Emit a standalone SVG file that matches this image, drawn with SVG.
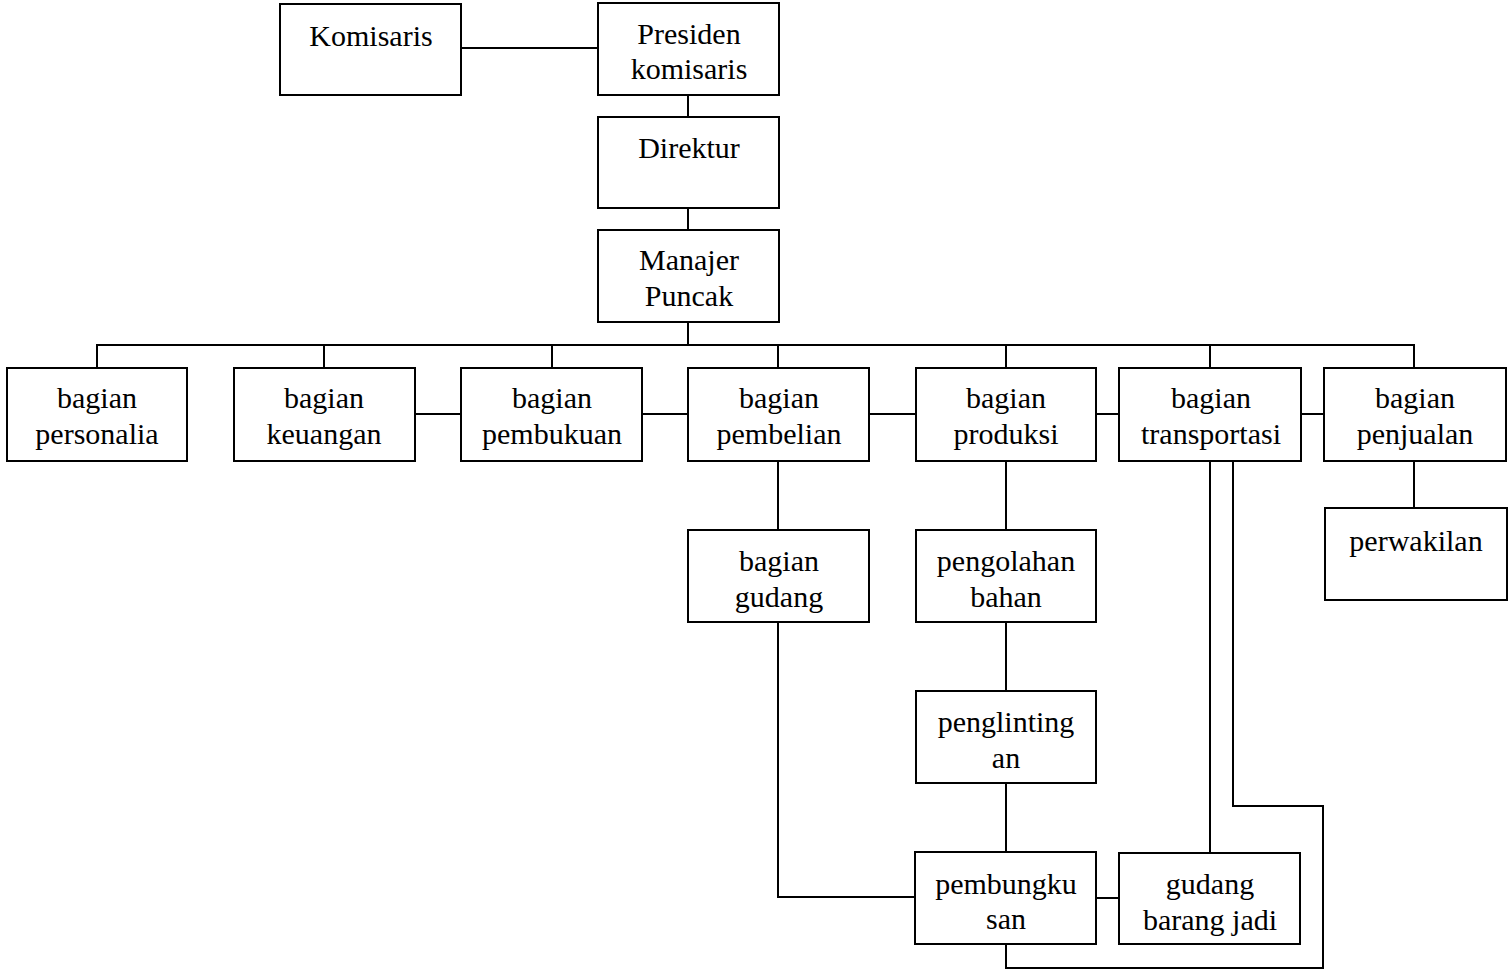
<svg xmlns="http://www.w3.org/2000/svg" width="1509" height="971" viewBox="0 0 1509 971">
<style>
.box{fill:#fff;stroke:#000;stroke-width:2}
.t{font-family:"Liberation Serif","Times New Roman",serif;font-size:30px;fill:#000;text-anchor:middle}
.c{fill:none;stroke:#000;stroke-width:2}
</style>
<rect width="1509" height="971" fill="#fff"/>
<g id="connectors">
<line class="c" x1="461" y1="48" x2="598" y2="48"/>
<line class="c" x1="688" y1="95" x2="688" y2="117"/>
<line class="c" x1="688" y1="208" x2="688" y2="230"/>
<line class="c" x1="688" y1="322" x2="688" y2="345"/>
<polyline class="c" points="97,368 97,345 1414,345 1414,368"/>
<line class="c" x1="324" y1="345" x2="324" y2="368"/>
<line class="c" x1="552" y1="345" x2="552" y2="368"/>
<line class="c" x1="778" y1="345" x2="778" y2="368"/>
<line class="c" x1="1006" y1="345" x2="1006" y2="368"/>
<line class="c" x1="1210" y1="345" x2="1210" y2="368"/>
<line class="c" x1="415" y1="414" x2="461" y2="414"/>
<line class="c" x1="642" y1="414" x2="688" y2="414"/>
<line class="c" x1="869" y1="414" x2="916" y2="414"/>
<line class="c" x1="1096" y1="414" x2="1119" y2="414"/>
<line class="c" x1="1301" y1="414" x2="1324" y2="414"/>
<line class="c" x1="778" y1="461" x2="778" y2="530"/>
<polyline class="c" points="778,622 778,897 915,897"/>
<line class="c" x1="1006" y1="461" x2="1006" y2="530"/>
<line class="c" x1="1006" y1="622" x2="1006" y2="691"/>
<line class="c" x1="1006" y1="783" x2="1006" y2="852"/>
<line class="c" x1="1096" y1="898" x2="1119" y2="898"/>
<line class="c" x1="1210" y1="461" x2="1210" y2="853"/>
<polyline class="c" points="1233,461 1233,806 1323,806 1323,968 1006,968 1006,944"/>
<line class="c" x1="1414" y1="461" x2="1414" y2="508"/>
</g>
<g id="komisaris"><rect class="box" x="280" y="4" width="181" height="91"/><text class="t" x="371" y="46">Komisaris</text></g>
<g id="presiden"><rect class="box" x="598" y="3" width="181" height="92"/><text class="t" x="689" y="44">Presiden</text><text class="t" x="689" y="79">komisaris</text></g>
<g id="direktur"><rect class="box" x="598" y="117" width="181" height="91"/><text class="t" x="689" y="158">Direktur</text></g>
<g id="manajer"><rect class="box" x="598" y="230" width="181" height="92"/><text class="t" x="689" y="270">Manajer</text><text class="t" x="689" y="306">Puncak</text></g>
<g id="personalia"><rect class="box" x="7" y="368" width="180" height="93"/><text class="t" x="97" y="408">bagian</text><text class="t" x="97" y="444">personalia</text></g>
<g id="keuangan"><rect class="box" x="234" y="368" width="181" height="93"/><text class="t" x="324" y="408">bagian</text><text class="t" x="324" y="444">keuangan</text></g>
<g id="pembukuan"><rect class="box" x="461" y="368" width="181" height="93"/><text class="t" x="552" y="408">bagian</text><text class="t" x="552" y="444">pembukuan</text></g>
<g id="pembelian"><rect class="box" x="688" y="368" width="181" height="93"/><text class="t" x="779" y="408">bagian</text><text class="t" x="779" y="444">pembelian</text></g>
<g id="produksi"><rect class="box" x="916" y="368" width="180" height="93"/><text class="t" x="1006" y="408">bagian</text><text class="t" x="1006" y="444">produksi</text></g>
<g id="transportasi"><rect class="box" x="1119" y="368" width="182" height="93"/><text class="t" x="1211" y="408">bagian</text><text class="t" x="1211" y="444">transportasi</text></g>
<g id="penjualan"><rect class="box" x="1324" y="368" width="182" height="93"/><text class="t" x="1415" y="408">bagian</text><text class="t" x="1415" y="444">penjualan</text></g>
<g id="gudang"><rect class="box" x="688" y="530" width="181" height="92"/><text class="t" x="779" y="571">bagian</text><text class="t" x="779" y="607">gudang</text></g>
<g id="pengolahan"><rect class="box" x="916" y="530" width="180" height="92"/><text class="t" x="1006" y="571">pengolahan</text><text class="t" x="1006" y="607">bahan</text></g>
<g id="penglintingan"><rect class="box" x="916" y="691" width="180" height="92"/><text class="t" x="1006" y="732">penglinting</text><text class="t" x="1006" y="768">an</text></g>
<g id="pembungkusan"><rect class="box" x="915" y="852" width="181" height="92"/><text class="t" x="1006" y="894">pembungku</text><text class="t" x="1006" y="929">san</text></g>
<g id="gudangbarang"><rect class="box" x="1119" y="853" width="181" height="91"/><text class="t" x="1210" y="894">gudang</text><text class="t" x="1210" y="930">barang jadi</text></g>
<g id="perwakilan"><rect class="box" x="1325" y="508" width="182" height="92"/><text class="t" x="1416" y="551">perwakilan</text></g>
</svg>
